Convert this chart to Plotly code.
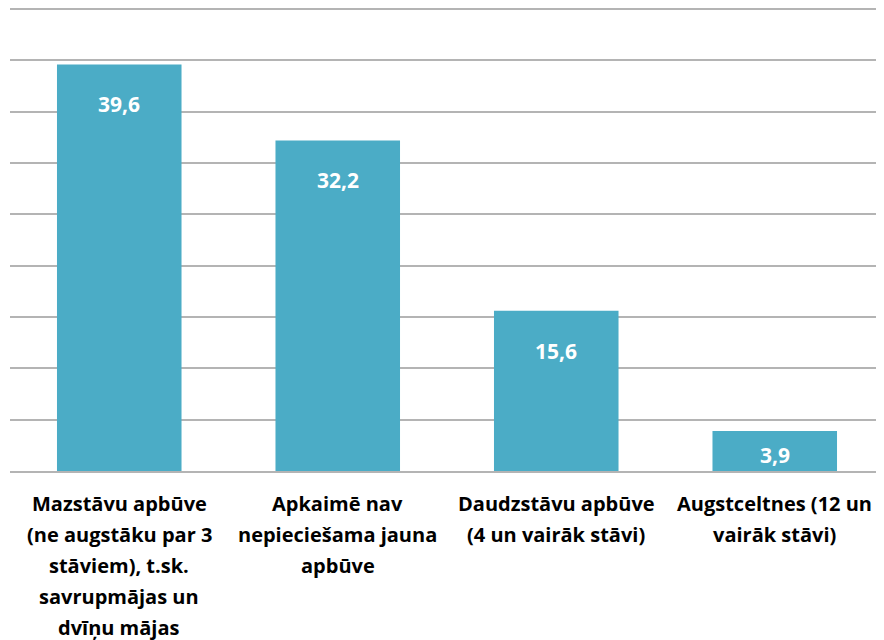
import plotly.graph_objects as go

categories = [
    'Mazstāvu apbūve<br>(ne augstāku par 3<br>stāviem), t.sk.<br>savrupmājas un<br>dvīņu mājas',
    'Apkaimē nav<br>nepieciešama jauna<br>apbūve',
    'Daudzstāvu apbūve<br>(4 un vairāk stāvi)',
    'Augstceltnes (12 un<br>vairāk stāvi)',
]
values = [39.6, 32.2, 15.6, 3.9]

BAR = '#4BACC6'
GRID = '#B4B4B4'
FONT = 'Open Sans'

keys = ['c%d' % i for i in range(len(categories))]

fig = go.Figure(go.Bar(
    x=keys,
    y=values,
    marker=dict(color=BAR, line=dict(width=0)),
    hoverinfo='skip'))

# value labels inside the bars
for k, v in zip(keys, values):
    if v > 8:
        y, shift = v, -40
    else:
        y, shift = v / 2, -4
    fig.add_annotation(x=k, y=y, yshift=shift, text=f'{v:.1f}'.replace('.', ','),
                       showarrow=False, yanchor='middle',
                       font=dict(family=FONT, size=21, color='white', weight='bold'))

# category labels, one annotation per line to get Excel-like line spacing
for k, lab in zip(keys, categories):
    for i, line in enumerate(lab.split('<br>')):
        fig.add_annotation(x=k, y=0, yref='y', yshift=-32 - 31 * i, text=line,
                           showarrow=False, yanchor='middle', xanchor='center',
                           font=dict(family=FONT, size=20, color='black', weight='bold'))

fig.update_xaxes(showticklabels=False, showgrid=False, showline=True,
                 linecolor=GRID, linewidth=2, fixedrange=True)
fig.update_yaxes(range=[0, 45.1], dtick=5, showticklabels=False, showgrid=True,
                 gridcolor=GRID, gridwidth=2, zeroline=False, fixedrange=True)

fig.update_layout(
    width=876,
    height=632,
    autosize=False,
    margin=dict(l=2, r=0, t=0, b=169, pad=0),
    bargap=0.43,
    plot_bgcolor='white',
    paper_bgcolor='white',
    showlegend=False,
    font=dict(family=FONT))

fig.write_html('out.html', config=dict(displayModeBar=False))
